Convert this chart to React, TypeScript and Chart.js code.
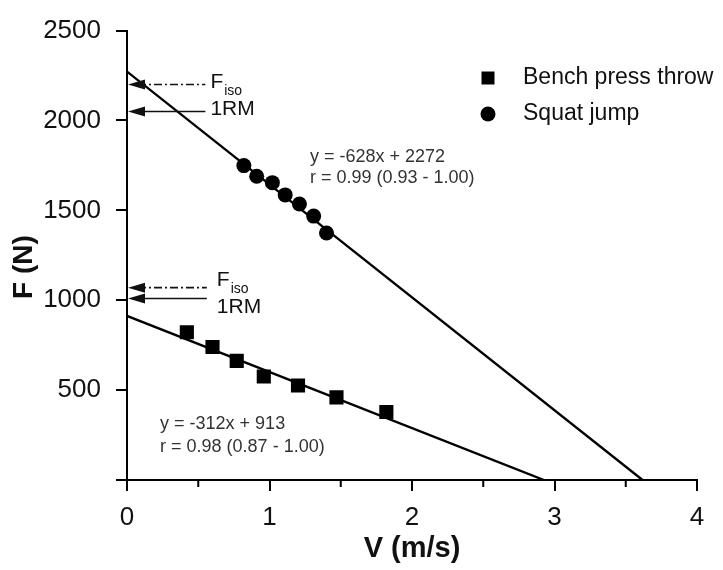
import React, { useEffect, useRef } from 'react';
import { Chart, registerables } from 'chart.js';

Chart.register(...registerables);

const SERIES_LABELS = ['Bench press throw', 'Squat jump'];
const BENCH_V = [0.42, 0.6, 0.77, 0.96, 1.2, 1.47, 1.82];
const BENCH_F = [822, 740, 663, 576, 526, 460, 378];
const SQUAT_V = [0.82, 0.91, 1.02, 1.11, 1.21, 1.31, 1.4];
const SQUAT_F = [1749, 1690, 1654, 1586, 1535, 1468, 1374];
const FIT_SLOPE = [-312, -628];
const FIT_INTERCEPT = [913, 2272];
const FIT_TEXT = [
  ['y = -312x + 913', 'r = 0.98 (0.87 - 1.00)'],
  ['y = -628x + 2272', 'r = 0.99 (0.93 - 1.00)'],
];
const FIT_TEXT_POS = [
  { v: 0.232, f: [312, 186] },
  { v: 1.284, f: [1798, 1678] },
];
const FISO = [1070, 2200];
const ONE_RM = [1010, 2050];
const ARROW_END_V = [0.56, 0.55];
const X_TICKS = [0, 1, 2, 3, 4];
const X_MINOR = [0.5, 1.5, 2.5, 3.5];
const Y_TICKS = [0, 500, 1000, 1500, 2000, 2500];
const Y_TICK_LABELS = ['', '500', '1000', '1500', '2000', '2500'];

const FONT = '"Liberation Sans", Arial, sans-serif';

function fitLine(i: number) {
  return [
    { x: 0, y: FIT_INTERCEPT[i] },
    { x: -FIT_INTERCEPT[i] / FIT_SLOPE[i], y: 0 },
  ];
}

const overlayPlugin = {
  id: 'overlay',
  afterDraw(chart: any) {
    const ctx = chart.ctx as CanvasRenderingContext2D;
    const xs = chart.scales.x;
    const ys = chart.scales.y;
    const area = chart.chartArea;
    ctx.save();

    // minor x ticks
    ctx.strokeStyle = '#000';
    ctx.lineWidth = 2;
    X_MINOR.forEach((v) => {
      const px = xs.getPixelForValue(v);
      ctx.beginPath();
      ctx.moveTo(px, area.bottom);
      ctx.lineTo(px, area.bottom + 7);
      ctx.stroke();
    });

    // y title
    ctx.save();
    ctx.translate(24, 267);
    ctx.rotate(-Math.PI / 2);
    ctx.fillStyle = '#111';
    ctx.font = `bold 28px ${FONT}`;
    ctx.textAlign = 'center';
    ctx.textBaseline = 'middle';
    ctx.fillText('F (N)', 0, 0);
    ctx.restore();

    // arrows
    const drawArrow = (yv: number, xv: number, dashed: boolean) => {
      const py = ys.getPixelForValue(yv);
      const x0 = xs.getPixelForValue(0) + 1;
      const x1 = xs.getPixelForValue(xv);
      ctx.strokeStyle = '#111';
      ctx.lineWidth = 1.6;
      ctx.setLineDash(dashed ? [8, 3, 2, 3] : []);
      ctx.beginPath();
      ctx.moveTo(x0 + 10, py);
      ctx.lineTo(x1, py);
      ctx.stroke();
      ctx.setLineDash([]);
      ctx.fillStyle = '#111';
      ctx.beginPath();
      ctx.moveTo(x0, py);
      ctx.lineTo(x0 + 17, py - 5);
      ctx.lineTo(x0 + 17, py + 5);
      ctx.closePath();
      ctx.fill();
      return { py, x1 };
    };
    const labelOffsets = [
      { dx: 10, f: -2, sub: 5, rm: 9 },
      { dx: 5, f: 3, sub: 10, rm: -2 },
    ];
    [0, 1].forEach((i) => {
      const a = drawArrow(FISO[i], ARROW_END_V[i], true);
      const b = drawArrow(ONE_RM[i], ARROW_END_V[i], false);
      const o = labelOffsets[i];
      const lx = a.x1 + o.dx;
      ctx.fillStyle = '#111';
      ctx.textAlign = 'left';
      ctx.textBaseline = 'alphabetic';
      ctx.font = `21px ${FONT}`;
      ctx.fillText('F', lx, a.py + o.f);
      const fw = ctx.measureText('F').width;
      ctx.font = `14px ${FONT}`;
      ctx.fillText('iso', lx + fw + 1, a.py + o.sub);
      ctx.font = `21px ${FONT}`;
      ctx.textBaseline = 'middle';
      ctx.fillText('1RM', lx, b.py + o.rm);
    });

    // fit equations
    ctx.fillStyle = '#333';
    ctx.font = `18px ${FONT}`;
    ctx.textAlign = 'left';
    ctx.textBaseline = 'middle';
    FIT_TEXT.forEach((lines, i) => {
      const p = FIT_TEXT_POS[i];
      lines.forEach((t, j) => {
        ctx.fillText(t, xs.getPixelForValue(p.v), ys.getPixelForValue(p.f[j]));
      });
    });

    // legend
    const legendX = 488;
    const legendY = [78, 114];
    ctx.font = `23px ${FONT}`;
    ctx.textBaseline = 'middle';
    SERIES_LABELS.forEach((lab, i) => {
      const ds = chart.data.datasets[i];
      ctx.fillStyle = '#000';
      ctx.beginPath();
      if (ds.pointStyle === 'rect') {
        ctx.rect(legendX - 6.5, legendY[i] - 6.5, 13, 13);
      } else {
        ctx.arc(legendX, legendY[i], 7.5, 0, Math.PI * 2);
      }
      ctx.fill();
      ctx.fillStyle = '#111';
      ctx.fillText(lab, legendX + 35, legendY[i]);
    });
    ctx.restore();
  },
};

export default function App() {
  const ref = useRef<HTMLCanvasElement | null>(null);
  useEffect(() => {
    document.body.style.margin = '0';
    const canvas = ref.current;
    if (!canvas) return;
    const chart = new Chart(canvas, {
      type: 'scatter',
      data: {
        datasets: [
          {
            label: SERIES_LABELS[0],
            data: BENCH_V.map((v, i) => ({ x: v, y: BENCH_F[i] })),
            pointStyle: 'rect',
            pointRadius: 10,
            backgroundColor: '#000',
            borderWidth: 0,
            order: 0,
          },
          {
            label: SERIES_LABELS[1],
            data: SQUAT_V.map((v, i) => ({ x: v, y: SQUAT_F[i] })),
            pointStyle: 'circle',
            pointRadius: 7.5,
            backgroundColor: '#000',
            borderWidth: 0,
            order: 0,
          },
          {
            type: 'line',
            label: 'fit bench',
            data: fitLine(0),
            borderColor: '#000',
            borderWidth: 2.4,
            pointRadius: 0,
            showLine: true,
            order: 1,
          } as any,
          {
            type: 'line',
            label: 'fit squat',
            data: fitLine(1),
            borderColor: '#000',
            borderWidth: 2.4,
            pointRadius: 0,
            showLine: true,
            order: 1,
          } as any,
        ],
      },
      options: {
        responsive: false,
        animation: false,
        devicePixelRatio: 1,
        layout: { padding: { top: 24, right: 26, left: 0, bottom: 0 } },
        plugins: { legend: { display: false }, tooltip: { enabled: false } },
        scales: {
          x: {
            type: 'linear',
            min: 0,
            max: 4,
            afterFit: (s: any) => { s.height = 90; },
            afterBuildTicks: (s: any) => { s.ticks = X_TICKS.map((v) => ({ value: v })); },
            ticks: {
              font: { family: FONT, size: 26 },
              color: '#111',
              padding: 11,
              maxRotation: 0,
              callback: (v: any) => String(v),
            },
            grid: { drawOnChartArea: false, drawTicks: true, tickLength: 11, color: '#000', lineWidth: 2 },
            border: { display: true, color: '#000', width: 2 },
            title: {
              display: true,
              text: 'V (m/s)',
              font: { family: FONT, size: 29, weight: 'bold' },
              color: '#111',
              padding: { top: 0, bottom: 4 },
            },
          },
          y: {
            type: 'linear',
            min: 0,
            max: 2500,
            afterFit: (s: any) => { s.width = 127; },
            afterBuildTicks: (s: any) => { s.ticks = Y_TICKS.map((v) => ({ value: v })); },
            ticks: {
              font: { family: FONT, size: 26 },
              color: '#111',
              padding: 15,
              callback: (_v: any, idx: number) => Y_TICK_LABELS[idx],
            },
            grid: { drawOnChartArea: false, drawTicks: true, tickLength: 11, color: '#000', lineWidth: 2 },
            border: { display: true, color: '#000', width: 2 },
          },
        },
      },
      plugins: [overlayPlugin],
    } as any);
    return () => chart.destroy();
  }, []);
  return (
    <div style={{ width: 723, height: 570 }}>
      <canvas ref={ref} width={723} height={570} />
    </div>
  );
}
